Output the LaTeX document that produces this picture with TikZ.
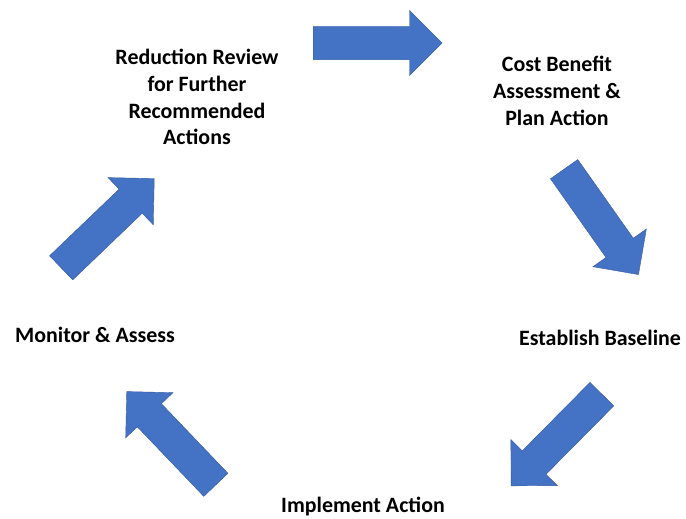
\documentclass[tikz,border=0pt]{standalone}
\usepackage{fontspec}
\setmainfont{Carlito}
\usetikzlibrary{shapes}
\definecolor{cycleblue}{RGB}{68,114,196}
\definecolor{cycleedge}{RGB}{52,90,160}

\begin{document}
\begin{tikzpicture}[x=1bp, y=-1bp,
  cyclearrow/.style={single arrow, fill=cycleblue, draw=cycleedge, line width=0.4pt,
    minimum height=129bp, single arrow head extend=16bp, single arrow tip angle=90,
    inner xsep=0pt, inner ysep=16.5bp, anchor=tail},
  steplabel/.style={font=\fontsize{22}{27}\selectfont\bfseries, align=center, inner sep=0pt}]
\useasboundingbox (0,0) rectangle (686,519);
\node[steplabel] (review) at (197,97) {Reduction Review\\for Further\\Recommended\\Actions};
\node[steplabel] (cost) at (557,91) {Cost Benefit\\Assessment \&\\Plan Action};
\node[steplabel] (baseline) at (600,338) {Establish Baseline};
\node[steplabel] (implement) at (363,507) {Implement Action};
\node[steplabel] (monitor) at (95,335) {Monitor \& Assess};
\node[cyclearrow] (toCost) at (313,43) {};
\node[cyclearrow, rotate=-54.8] (toBaseline) at (564,169) {};
\node[cyclearrow, rotate=-134.7] (toImplement) at (602,394) {};
\node[cyclearrow, rotate=133.7] (toMonitor) at (216,485) {};
\node[cyclearrow, rotate=43.8] (toReview) at (61,268) {};
\end{tikzpicture}
\end{document}
